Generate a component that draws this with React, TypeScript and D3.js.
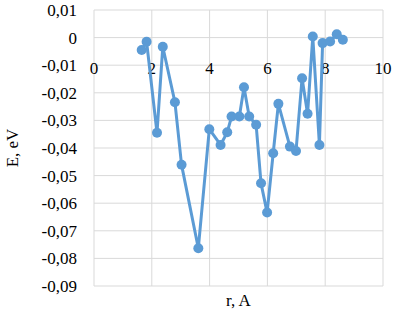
import { useMemo } from "react";
import * as d3 from "d3";

const rValues = [
  1.65, 1.82, 2.18, 2.38, 2.8, 3.03, 3.61, 3.99, 4.38, 4.61, 4.76, 5.03, 5.19, 5.37, 5.61,
  5.78, 5.99, 6.2, 6.38, 6.78, 6.99, 7.2, 7.39, 7.57, 7.8, 7.91, 8.17, 8.4, 8.61,
];
const eValues = [
  -0.0045, -0.0015, -0.0345, -0.0033, -0.0234, -0.0461, -0.0763, -0.0332, -0.0389, -0.0343,
  -0.0286, -0.0286, -0.018, -0.0286, -0.0316, -0.0528, -0.0634, -0.0419, -0.024, -0.0395,
  -0.0411, -0.0147, -0.0276, 0.0004, -0.0389, -0.002, -0.0014, 0.0012, -0.0008,
];
const xTicks = [0, 2, 4, 6, 8, 10];
const yTicks = [0.01, 0, -0.01, -0.02, -0.03, -0.04, -0.05, -0.06, -0.07, -0.08, -0.09];

const WIDTH = 393;
const HEIGHT = 311;
const LEFT = 94;
const RIGHT = 383;
const TOP = 10;
const BOTTOM = 286;
const COLOR = "#5B9BD5";
const FONT = "'Liberation Serif', 'Times New Roman', serif";

// Excel style: comma decimals and a plain hyphen for minus
const fmt = (v: number) =>
  Math.abs(v) < 1e-9 ? "0" : (v < 0 ? "-" : "") + Math.abs(v).toFixed(2).replace(".", ",");

export default function App() {
  const x = useMemo(() => d3.scaleLinear().domain([0, 10]).range([LEFT, RIGHT]), []);
  const y = useMemo(() => d3.scaleLinear().domain([-0.09, 0.01]).range([BOTTOM, TOP]), []);
  const points = rValues.map((r, i) => [r, eValues[i]] as [number, number]);
  const line = d3
    .line<[number, number]>()
    .x((d) => x(d[0]))
    .y((d) => y(d[1]));

  return (
    <svg
      width={WIDTH}
      height={HEIGHT}
      style={{ position: "absolute", left: 0, top: 0, background: "#fff", fontFamily: FONT }}
    >
      {/* grid */}
      {yTicks.map((t) => (
        <line key={`gy${t}`} x1={LEFT} x2={RIGHT} y1={y(t)} y2={y(t)} stroke="#d9d9d9" strokeWidth={1} />
      ))}
      {xTicks.map((t) => (
        <line key={`gx${t}`} x1={x(t)} x2={x(t)} y1={TOP} y2={BOTTOM} stroke="#d9d9d9" strokeWidth={1} />
      ))}
      {/* y labels */}
      {yTicks.map((t) => (
        <text key={`ly${t}`} x={77} y={y(t)} dy="0.35em" textAnchor="end" fontSize={17} fill="#000">
          {fmt(t)}
        </text>
      ))}
      {/* x labels sit below the zero line */}
      {xTicks.map((t) => (
        <text key={`lx${t}`} x={x(t)} y={y(0) + 30} dy="0.35em" textAnchor="middle" fontSize={17} fill="#000">
          {t}
        </text>
      ))}
      <path d={line(points) ?? ""} fill="none" stroke={COLOR} strokeWidth={3} strokeLinejoin="round" />
      {points.map((p, i) => (
        <circle key={i} cx={x(p[0])} cy={y(p[1])} r={5} fill={COLOR} />
      ))}
      <text
        transform={`translate(12, ${(TOP + BOTTOM) / 2}) rotate(-90)`}
        textAnchor="middle"
        fontSize={17}
        dy="0.35em"
        fill="#000"
      >
        E, eV
      </text>
      <text x={(LEFT + RIGHT) / 2} y={300} textAnchor="middle" fontSize={17} dy="0.35em" fill="#000">
        r, A
      </text>
    </svg>
  );
}
